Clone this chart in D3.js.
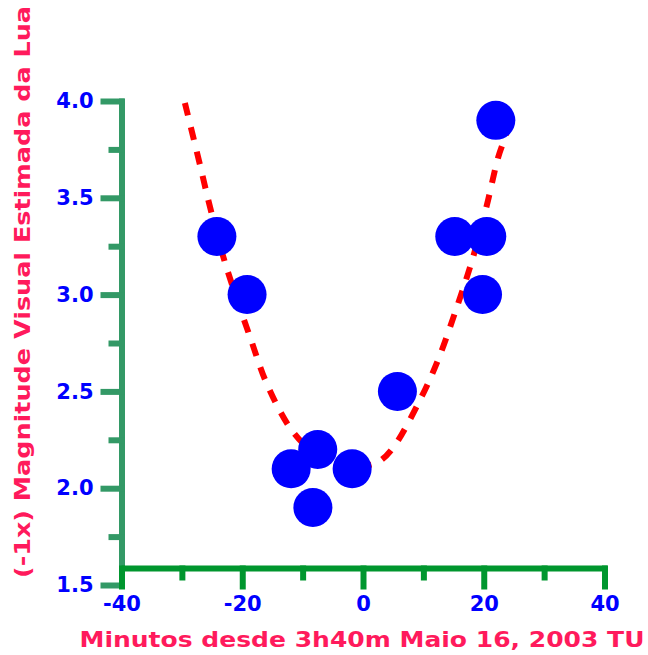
<!DOCTYPE html>
<html>
<head>
<meta charset="utf-8">
<script src="https://cdn.jsdelivr.net/npm/d3@7"></script>
<style>
  body { margin: 0; background: #fff; }
  svg { display: block; }
  text { font-family: "DejaVu Sans", sans-serif; font-weight: bold; }
</style>
</head>
<body>
<div id="chart"></div>
<script>
const minutes = [-24.2, -19.2, -11.9, -7.5, -8.3, -1.8, 5.7, 15.2, 20.5, 19.8, 22.0];
const magnitude = [3.3, 3.0, 2.1, 2.2, 1.9, 2.1, 2.5, 3.3, 3.3, 3.0, 3.9];

// points along the dashed fit curve
const fitMinutes = [-29.5, -27.0, -25.4, -22.9, -18.7, -15.8, -11.8, -8, -4, 0, 2.5, 5.0, 9.5, 12.4, 15.6, 18.2, 20.5, 22.4, 23.5, 24.3];
const fitMagnitude = [3.99, 3.67, 3.46, 3.17, 2.78, 2.53, 2.30, 2.18, 2.12, 2.115, 2.135, 2.21, 2.46, 2.66, 2.94, 3.19, 3.46, 3.71, 3.81, 3.9];

const xMajor = [-40, -20, 0, 20, 40];
const xMinor = [-30, -10, 10, 30];
const yMajor = [1.5, 2.0, 2.5, 3.0, 3.5, 4.0];
const yMinor = [1.75, 2.25, 2.75, 3.25, 3.75];

const xTitle = "Minutos desde 3h40m Maio 16, 2003 TU";
const yTitle = "(-1x) Magnitude Visual Estimada da Lua";

const width = 648, height = 655;
const yAxisX = 121.5, xAxisY = 568.5;
const titleColor = "#ff1a5c";
const tickColor = "#0000ff";
const yAxisColor = "#339966";
const xAxisColor = "#00962e";

const svg = d3.select("#chart").append("svg")
  .attr("width", width)
  .attr("height", height);

const x = d3.scaleLinear().domain([-40, 40]).range([121.5, 604.5]);
const y = d3.scaleLinear().domain([1.5, 4.0]).range([585, 101]);

// y axis
const yAxis = svg.append("g").attr("transform", `translate(${yAxisX},0)`)
  .call(d3.axisLeft(y).tickValues(yMajor).tickSize(18).tickSizeOuter(0)
    .tickFormat(d3.format(".1f")).tickPadding(10));
const yMinorAxis = svg.append("g").attr("transform", `translate(${yAxisX},0)`)
  .call(d3.axisLeft(y).tickValues(yMinor).tickSize(10).tickSizeOuter(0).tickFormat(""));
yMinorAxis.select(".domain").remove();

// x axis
const xAxis = svg.append("g").attr("transform", `translate(0,${xAxisY})`)
  .call(d3.axisBottom(x).tickValues(xMajor).tickSize(18).tickSizeOuter(0)
    .tickFormat(d => String(d)).tickPadding(10));
const xMinorAxis = svg.append("g").attr("transform", `translate(0,${xAxisY})`)
  .call(d3.axisBottom(x).tickValues(xMinor).tickSize(9).tickSizeOuter(0).tickFormat(""));
xMinorAxis.select(".domain").remove();
xAxis.select(".domain").attr("d", `M${yAxisX + 3},0H${x(40)}`);

[yAxis, yMinorAxis].forEach(g => g.selectAll(".domain, .tick line")
  .attr("stroke", yAxisColor).attr("stroke-width", 6).attr("stroke-linecap", "square"));
[xAxis, xMinorAxis].forEach(g => g.selectAll(".domain, .tick line")
  .attr("stroke", xAxisColor).attr("stroke-width", 6).attr("stroke-linecap", "square"));

svg.selectAll(".tick text")
  .attr("fill", tickColor)
  .attr("font-size", 21)
  .attr("font-family", "DejaVu Sans, sans-serif")
  .attr("font-weight", "bold");

// dashed fit curve
const line = d3.line()
  .x(d => x(d[0]))
  .y(d => y(d[1]))
  .curve(d3.curveCatmullRom);

svg.append("path")
  .datum(d3.zip(fitMinutes, fitMagnitude))
  .attr("d", line)
  .attr("fill", "none")
  .attr("stroke", "#ff0000")
  .attr("stroke-width", 6)
  .attr("stroke-dasharray", "13,12");

// observations
svg.append("g")
  .selectAll("circle")
  .data(d3.zip(minutes, magnitude))
  .enter()
  .append("circle")
  .attr("cx", d => x(d[0]))
  .attr("cy", d => y(d[1]))
  .attr("r", 19.5)
  .attr("fill", "#0000ff");

// axis titles
svg.append("text")
  .attr("x", 362)
  .attr("y", 647)
  .attr("text-anchor", "middle")
  .attr("font-size", 21)
  .attr("fill", titleColor)
  .attr("textLength", 565)
  .attr("lengthAdjust", "spacingAndGlyphs")
  .text(xTitle);

svg.append("text")
  .attr("transform", "translate(30,292) rotate(-90)")
  .attr("text-anchor", "middle")
  .attr("font-size", 21)
  .attr("fill", titleColor)
  .attr("textLength", 572)
  .attr("lengthAdjust", "spacingAndGlyphs")
  .text(yTitle);
</script>
</body>
</html>
